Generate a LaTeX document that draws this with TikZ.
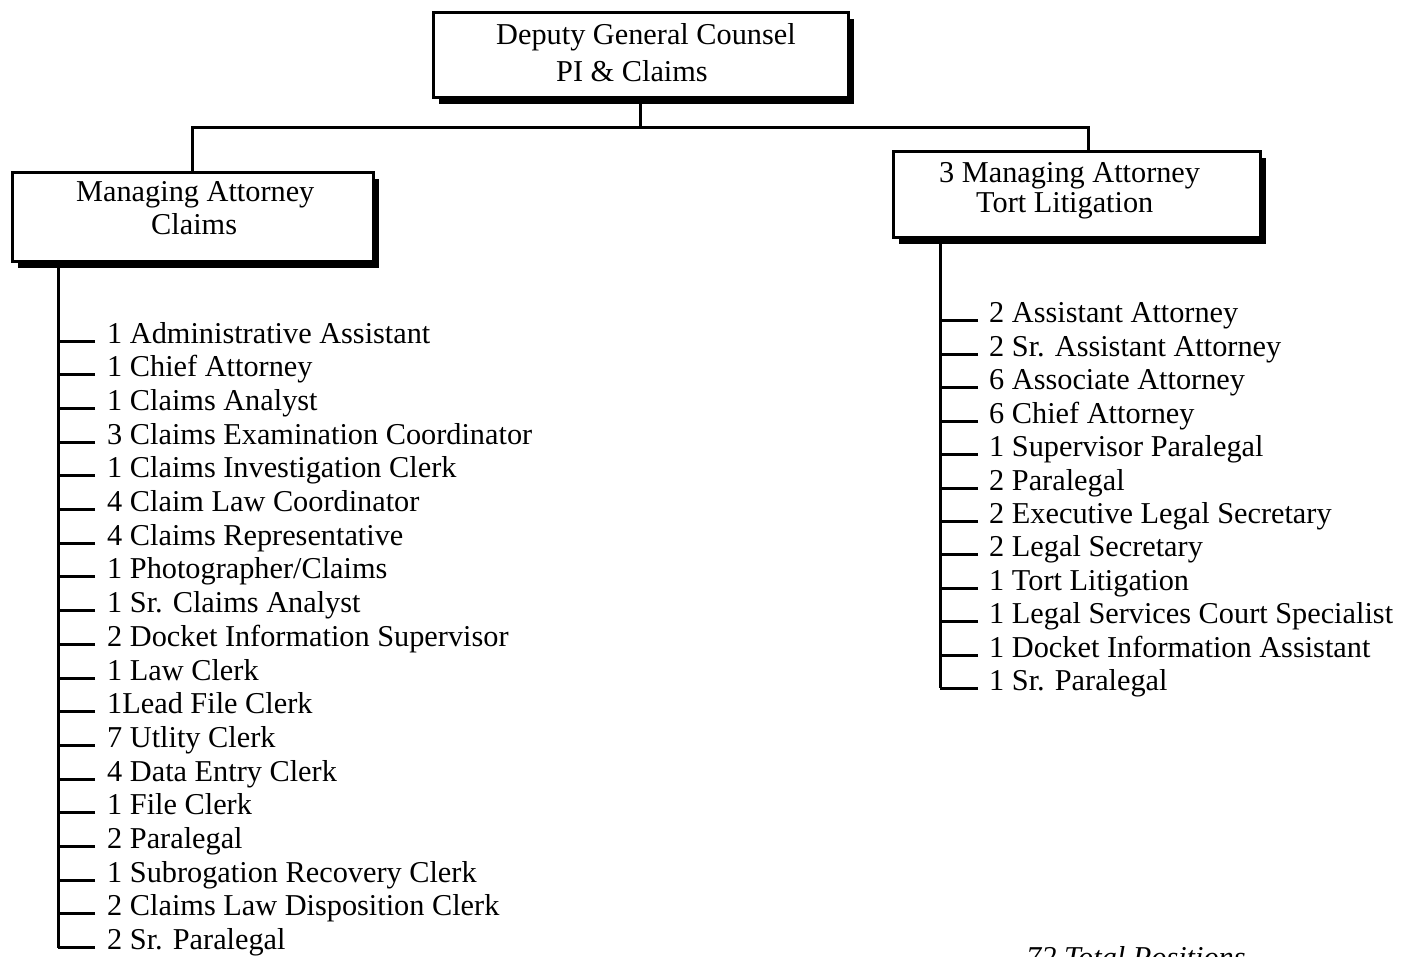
\documentclass[tikz,border=0pt]{standalone}
\usepackage{fontspec}
\setmainfont{Liberation Serif}
\usetikzlibrary{shadows}
\begin{document}
\begin{tikzpicture}[x=1pt,y=-1pt,
  box/.style={draw, fill=white, line width=3pt, inner sep=0pt,
    general shadow={fill=black, shadow xshift=6pt, shadow yshift=-6pt}},
  lbl/.style={anchor=base west, inner sep=0pt, font=\fontsize{30.3}{34}\selectfont},
  conn/.style={line width=3pt}]
\clip (0,0) rectangle (1415,957);
\fill[white] (0,0) rectangle (1415,957);
% boxes
\node[box, minimum width=415pt, minimum height=85pt] (top) at (640.5,55.5) {};
\node[box, minimum width=361pt, minimum height=89pt] (lbox) at (192.5,217.5) {};
\node[box, minimum width=367pt, minimum height=86pt] (rbox) at (1076.5,195) {};
% box texts
\node[lbl] (t1) at (496,45) {Deputy General Counsel};
\node[lbl] (t2) at (556,82) {PI \& Claims};
\node[lbl] (l1) at (76,202) {Managing Attorney};
\node[lbl] (l2) at (151,235) {Claims};
\node[lbl] (r1) at (939,183) {3 Managing Attorney};
\node[lbl] (r2) at (976,213) {Tort Litigation};
% connectors between boxes
\coordinate (jT) at (640.5,128);
\coordinate (jL) at (192.5,128);
\coordinate (jR) at (1088,128);
\draw[conn] (top.south) -- (jT);
\draw[conn] (lbox.north) -- (jL) -- (jR) -- (jR |- rbox.north);
% left list
\coordinate (spL) at (58,0);
\foreach \t [count=\i from 0] in {{1 Administrative Assistant},{1 Chief Attorney},{1 Claims Analyst},{3 Claims Examination Coordinator},{1 Claims Investigation Clerk},{4 Claim Law Coordinator},{4 Claims Representative},{1 Photographer/Claims},{1 Sr. Claims Analyst},{2 Docket Information Supervisor},{1 Law Clerk},{1Lead File Clerk},{7 Utlity Clerk},{4 Data Entry Clerk},{1 File Clerk},{2 Paralegal},{1 Subrogation Recovery Clerk},{2 Claims Law Disposition Clerk},{2 Sr. Paralegal}} {
  \node[lbl] (L\i) at (107,{343+33.7*\i}) {\t};
  \path ([yshift=2pt]L\i.base west) coordinate (tl\i);
  \draw[conn] (tl\i) ++(-12,0) -- (tl\i -| spL);
}
\draw[conn] (lbox.south -| spL) -- (tl18 -| spL);
% right list
\coordinate (spR) at (940,0);
\foreach \t [count=\i from 0] in {{2 Assistant Attorney},{2 Sr. Assistant Attorney},{6 Associate Attorney},{6 Chief Attorney},{1 Supervisor Paralegal},{2 Paralegal},{2 Executive Legal Secretary},{2 Legal Secretary},{1 Tort Litigation},{1 Legal Services Court Specialist},{1 Docket Information Assistant},{1 Sr. Paralegal}} {
  \node[lbl] (R\i) at (989,{323+33.4*\i}) {\t};
  \path ([yshift=2pt]R\i.base west) coordinate (tr\i);
  \draw[conn] (tr\i) ++(-11,0) -- (tr\i -| spR);
}
\draw[conn] (rbox.south -| spR) -- (tr11 -| spR);
% total
\node[lbl, font=\fontsize{30.3}{34}\selectfont\itshape] (tot) at (1026,967) {72 Total Positions};
\end{tikzpicture}
\end{document}
